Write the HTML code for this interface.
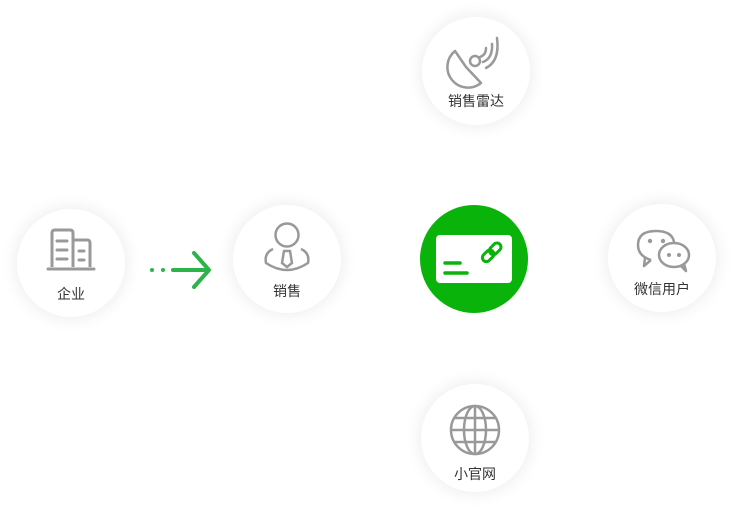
<!DOCTYPE html>
<html><head><meta charset="utf-8"><style>
html,body{margin:0;padding:0;background:#fff;width:733px;height:510px;overflow:hidden;position:relative;font-family:"Liberation Sans","Noto Sans CJK SC",sans-serif}
.c{position:absolute;width:108px;height:108px;border-radius:50%;background:#fff;box-shadow:0 0 18px rgba(0,0,0,0.09)}
.c svg{position:absolute;left:0;top:0}
.l{position:absolute;left:0;width:108px;text-align:center;font-size:14px;color:#333}
</style></head><body>

<div class="c" style="left:17px;top:209px">
<svg width="108" height="108" fill="none" stroke="#999" stroke-width="3">
<path d="M35 58 V24 Q35 21 38 21 H53 Q56 21 56 24 V58"/>
<path d="M56 31 H70 Q73 31 73 34 V58"/>
<path d="M31 60 H77" stroke-linecap="round"/>
<path d="M40 32 H50 M40 41 H50 M40 50 H50 M62 42 H67 M62 51 H67" stroke-linecap="round"/>
</svg>
<div class="l" style="top:75px">企业</div></div>

<svg style="position:absolute;left:145px;top:248px" width="70" height="44">
<circle cx="7" cy="22" r="2" fill="#2cb34a"/><circle cx="18" cy="22" r="2" fill="#2cb34a"/>
<path d="M28 22 H63 M49 5 L64 22 L49 39" stroke="#2cb34a" stroke-width="4" fill="none" stroke-linecap="round" stroke-linejoin="round"/>
</svg>

<div class="c" style="left:233px;top:205px">
<svg width="108" height="108" fill="none" stroke="#999" stroke-width="2.5">
<circle cx="54" cy="30" r="11.5"/>
<path d="M40 44 Q31 48 33 58 Q54 72 75 58 Q77 48 68 44"/>
<path d="M51 46 L49 58 L54 62 L59 58 L57 46 Z"/>
</svg>
<div class="l" style="top:76px">销售</div></div>

<div class="c" style="left:422px;top:17px">
<svg width="108" height="108" fill="none" stroke="#999" stroke-width="2.5" stroke-linecap="round" stroke-linejoin="round">
<path d="M33 34 A20 20 0 0 0 59 66 L44 50 Z"/>
<circle cx="53" cy="44" r="5"/>
<path d="M58 40 Q64 38 64 31 M61 45 Q71 41 70 27 M64 51 Q78 44 75 21"/>
</svg>
<div class="l" style="top:74px">销售雷达</div></div>

<div style="position:absolute;left:420px;top:205px;width:108px;height:108px;border-radius:50%;background:#0ab30a">
<svg width="108" height="108">
<rect x="16" y="30" width="76" height="48" rx="4" fill="#fff"/>
<path d="M25 58 H40 M25 68 H47" stroke="#0ab30a" stroke-width="3.5" stroke-linecap="round"/>
<g stroke="#0ab30a" stroke-width="3" fill="none" transform="rotate(-45 72 47)">
<rect x="60" y="43" width="13" height="8" rx="4"/><rect x="70" y="43" width="13" height="8" rx="4"/>
</g>
</svg></div>

<div class="c" style="left:608px;top:204px">
<svg width="108" height="108" fill="none" stroke="#999" stroke-width="2.5" stroke-linejoin="round">
<path d="M43 56 Q30 52 30 41 Q30 27 48 27 Q64 27 66 38"/>
<path d="M43 56 L36 62 L37 54"/>
<ellipse cx="66" cy="51" rx="15" ry="12"/>
<path d="M73 62 L78 67 L76 60"/>
<g fill="#999" stroke="none"><circle cx="42" cy="37" r="2.2"/><circle cx="55" cy="37" r="2.2"/><circle cx="61" cy="51" r="2"/><circle cx="71" cy="51" r="2"/></g>
</svg>
<div class="l" style="top:75px">微信用户</div></div>

<div class="c" style="left:421px;top:384px">
<svg width="108" height="108" fill="none" stroke="#999" stroke-width="2.5">
<circle cx="54" cy="46" r="24"/>
<ellipse cx="54" cy="46" rx="11" ry="24"/>
<path d="M54 22 V70 M30 46 H78 M34 34 H74 M34 58 H74"/>
</svg>
<div class="l" style="top:80px">小官网</div></div>

</body></html>
